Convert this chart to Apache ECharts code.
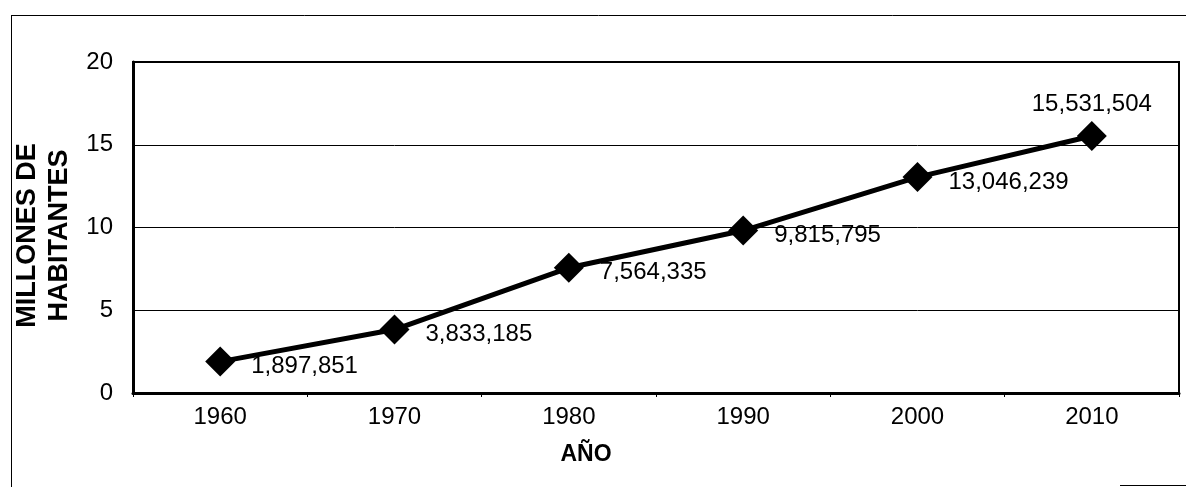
<!DOCTYPE html>
<html>
<head>
<meta charset="utf-8">
<title>Millones de habitantes</title>
<script src="https://cdn.jsdelivr.net/npm/echarts@6/dist/echarts.min.js"></script>
<style>
  html, body { margin: 0; padding: 0; background: #fff; }
  #chart { width: 1186px; height: 487px; }
</style>
</head>
<body>
<div id="chart"></div>
<script>
var years = ['1960', '1970', '1980', '1990', '2000', '2010'];
var habitantes = [1897851, 3833185, 7564335, 9815795, 13046239, 15531504];
var yTicks = [0, 5, 10, 15, 20];

var font = 'Liberation Sans, Arial, sans-serif';
var chart = echarts.init(document.getElementById('chart'));

var seriesData = habitantes.map(function (v, i) {
  var item = { value: v / 1e6, raw: v };
  // the last label sits above its marker
  if (i === habitantes.length - 1) {
    item.label = { position: 'top', distance: 5, offset: [0, 0] };
  }
  return item;
});

var option = {
  backgroundColor: '#fff',
  animation: false,
  grid: {
    left: 133, right: 7, top: 62, bottom: 94,
    containLabel: false,
    outerBoundsMode: 'none',
    show: true, borderColor: '#000', borderWidth: 2
  },
  xAxis: {
    type: 'category',
    data: years,
    boundaryGap: true,
    name: 'AÑO',
    nameLocation: 'middle',
    nameGap: 50,
    nameTextStyle: {
      color: '#000', fontSize: 23, fontWeight: 'bold', fontFamily: font,
      padding: [0, 140, 0, 0]
    },
    axisLine: { show: true, lineStyle: { color: '#000', width: 3 } },
    axisTick: { show: true, length: 4, lineStyle: { color: '#000' } },
    axisLabel: { color: '#000', fontSize: 24, fontFamily: font, margin: 12 }
  },
  yAxis: {
    type: 'value',
    min: yTicks[0],
    max: yTicks[yTicks.length - 1],
    interval: 5,
    name: 'MILLONES DE\nHABITANTES',
    nameLocation: 'middle',
    nameGap: 52,
    nameTextStyle: {
      color: '#000', fontSize: 27, fontWeight: 'bold', fontFamily: font,
      lineHeight: 32,
      padding: [0, 16, 0, 0]
    },
    axisLine: { show: true, lineStyle: { color: '#000', width: 3 } },
    axisTick: { show: false },
    axisLabel: { color: '#000', fontSize: 24, fontFamily: font, margin: 20 },
    splitLine: { show: true, lineStyle: { color: '#000', width: 1 } }
  },
  series: [{
    type: 'line',
    data: seriesData,
    symbol: 'diamond',
    symbolSize: 30,
    itemStyle: { color: '#000' },
    lineStyle: { color: '#000', width: 5 },
    label: {
      show: true,
      position: 'right',
      distance: 16,
      offset: [0, 5],
      color: '#000',
      fontSize: 24,
      fontFamily: font,
      formatter: function (p) {
        return p.data.raw.toLocaleString('en-US');
      }
    }
  }],
  graphic: [
    { type: 'line', shape: { x1: 11, y1: 15.5, x2: 1186, y2: 15.5 }, style: { stroke: '#000', lineWidth: 1 } },
    { type: 'line', shape: { x1: 11.5, y1: 15, x2: 11.5, y2: 487 }, style: { stroke: '#000', lineWidth: 1 } },
    { type: 'line', shape: { x1: 1120, y1: 485.5, x2: 1186, y2: 485.5 }, style: { stroke: '#000', lineWidth: 1 } }
  ]
};

chart.setOption(option);
</script>
</body>
</html>
